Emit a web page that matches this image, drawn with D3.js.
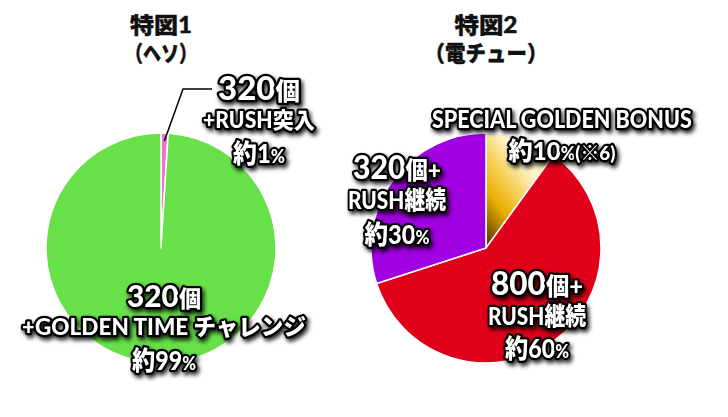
<!DOCTYPE html>
<html><head><meta charset="utf-8">
<script src="https://cdn.jsdelivr.net/npm/d3@7"></script>
<style>
html,body{margin:0;padding:0;background:#fff;}
svg{display:block;}
</style></head>
<body>
<svg id="chart" width="728" height="417"></svg>
<script>
// ---- data ----
const leftTitle = ["特図1", "（ヘソ）"];
const rightTitle = ["特図2", "（電チュー）"];
const leftCategories = ["320個+RUSH突入", "320個+GOLDEN TIME チャレンジ"];
const leftValues = [1, 99];
const rightCategories = ["SPECIAL GOLDEN BONUS", "800個+RUSH継続", "320個+RUSH継続"];
const rightValues = [10, 60, 30];
const leftLabelLines = [
  ["320個", "+RUSH突入", "約1%"],
  ["320個", "+GOLDEN TIME チャレンジ", "約99%"]
];
const rightLabelLines = [
  ["SPECIAL GOLDEN BONUS", "約10%(※6)"],
  ["800個+", "RUSH継続", "約60%"],
  ["320個+", "RUSH継続", "約30%"]
];

// ---- layout / style ----
const svg = d3.select("#chart");
const R = 115;
const pies = [
  {cx:161, cy:248, title:leftTitle, titleW:[62,72], lines:leftLabelLines, vals:leftValues,
   colors:["#ef72d2", "#68e04a"],
   labels:[
     {x:259, y:[100,128,163], size:[32,22,26], w:[82,112,52]},
     {x:164, y:[307,335,370], size:[31,23,26], w:[74,284,64]}
   ]},
  {cx:486, cy:248, title:rightTitle, titleW:[63,123], lines:rightLabelLines, vals:rightValues,
   colors:["url(#gold)", "#e1001a", "#a100e1"],
   labels:[
     {x:562, y:[128,160], size:[24,25], w:[260,107]},
     {x:537, y:[295,325,358], size:[32,25,26], w:[92,98,64]},
     {x:397, y:[179,209,244], size:[32,25,26], w:[88,98,65]}
   ]}
];

const defs = svg.append("defs");
const g = defs.append("linearGradient").attr("id","gold")
  .attr("x1",0.85).attr("y1",0).attr("x2",0.1).attr("y2",1);
[[0,"#f1cf6a"],[0.3,"#fff5d2"],[0.5,"#f6d360"],[0.72,"#ecae00"],[1,"#5e3f00"]]
  .forEach(([o,c])=>g.append("stop").attr("offset",o).attr("stop-color",c));
const f = defs.append("filter").attr("id","shadow").attr("x","-20%").attr("y","-40%").attr("width","150%").attr("height","200%");
f.append("feDropShadow").attr("dx",2).attr("dy",3).attr("stdDeviation",2)
  .attr("flood-color","#000").attr("flood-opacity",0.85);

const pieGen = d3.pie().sort(null).value(d=>d);
const arcGen = d3.arc().innerRadius(0).outerRadius(R);

function fit(t, x, y, w){
  const nat = t.node().getComputedTextLength();
  const sx = w / nat;
  t.attr("x",0).attr("y",0).attr("text-anchor","start")
   .attr("transform",`translate(${x - w/2},${y}) scale(${sx},1)`);
}

pies.forEach(p=>{
  p.title.forEach((d,i)=>{
    const t = svg.append("text")
      .attr("font-family","Lato, 'Noto Sans CJK JP', sans-serif")
      .attr("font-weight",900).attr("font-size",22).attr("fill","#111")
      .attr("stroke","#111").attr("stroke-width",0.4)
      .text(d);
    fit(t, p.cx, 33+i*28, p.titleW[i]);
  });

  const gp = svg.append("g").attr("transform",`translate(${p.cx},${p.cy})`);
  gp.selectAll("path").data(pieGen(p.vals)).join("path")
    .attr("d", arcGen)
    .attr("fill",(d,i)=>p.colors[i])
    .attr("stroke","#fff").attr("stroke-width",1.5).attr("stroke-linejoin","round");
});

// leader line for the 1% slice of the left pie
{
  const p = pies[0];
  const a = pieGen(p.vals)[0];
  const mid = (a.startAngle + a.endAngle)/2;
  const pt = [p.cx + Math.sin(mid)*(R-8), p.cy - Math.cos(mid)*(R-8)];
  svg.append("path")
    .attr("d", d3.line()([pt, [183, 89], [212, 89]]))
    .attr("fill","none").attr("stroke","#000").attr("stroke-width",1.5);
}

// labels
function runSize(r, i, size){
  if (r === "%") return size*0.72;
  if (r.startsWith("(")) return size*0.78;
  if (r === "個" && i>0) return size*0.74;
  if (r === "+" && i>0) return size*0.75;
  return size;
}
function addLine(parent, txt, x, y, size, w){
  const t = parent.append("text")
    .attr("font-family","Lato, 'Noto Sans CJK JP', sans-serif")
    .attr("font-weight",900)
    .attr("font-size",size)
    .attr("fill","#fff").attr("stroke","#000").attr("stroke-width",4.5)
    .attr("stroke-linejoin","round").attr("paint-order","stroke");
  const runs = txt.match(/\(※\d\)|[0-9]+|%|個|\+|[^0-9%個+(]+/g);
  runs.forEach((r,i)=> t.append("tspan").attr("font-size", runSize(r,i,size)).text(r));
  fit(t, x, y, w);
}
const labelG = svg.append("g").attr("filter","url(#shadow)");
pies.forEach(p=>{
  p.lines.forEach((lines,k)=>{
    const L = p.labels[k];
    const grp = labelG.append("g");
    lines.forEach((ln,j)=> addLine(grp, ln, L.x, L.y[j], L.size[j], L.w[j]));
  });
});
</script>
</body></html>
